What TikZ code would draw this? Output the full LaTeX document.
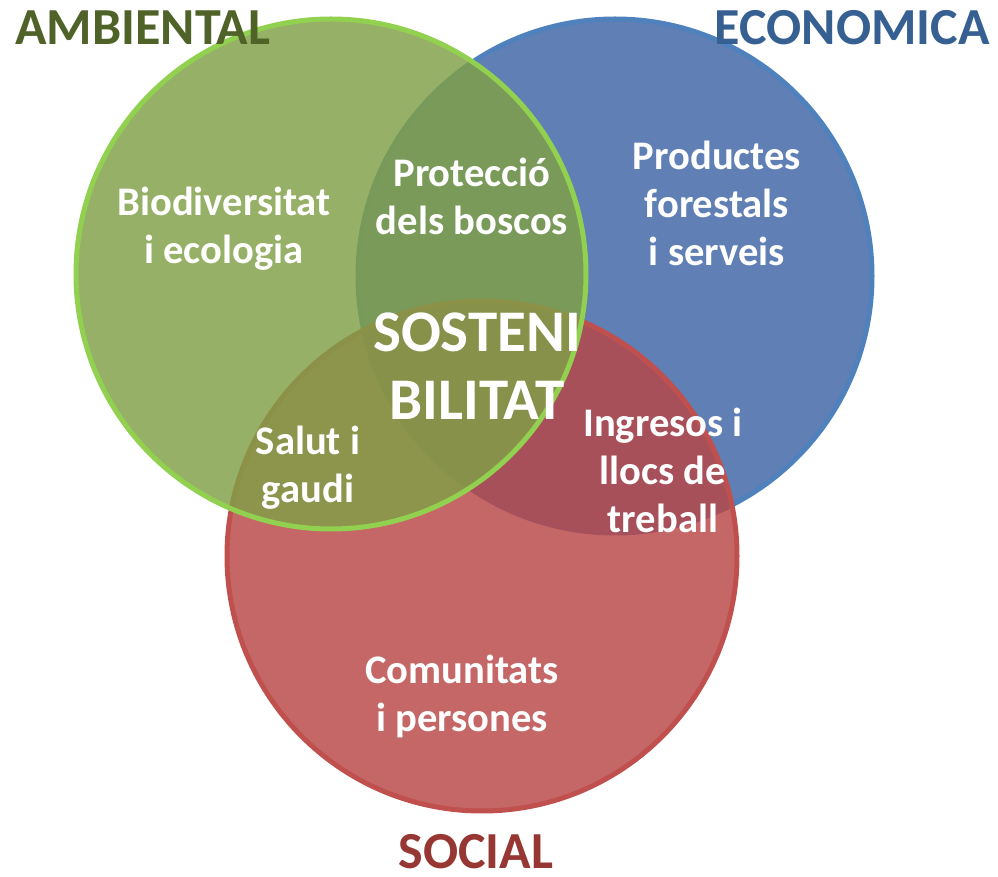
\documentclass[tikz,border=0pt]{standalone}
\usepackage{fontspec}
\setmainfont{Carlito}
\definecolor{gfill}{RGB}{128,160,70}
\definecolor{gline}{RGB}{146,208,80}
\definecolor{bfill}{RGB}{62,100,165}
\definecolor{bline}{RGB}{79,129,189}
\definecolor{rfill}{RGB}{185,70,70}
\definecolor{rline}{RGB}{192,80,77}
\definecolor{gtitle}{RGB}{79,98,40}
\definecolor{btitle}{RGB}{54,96,146}
\definecolor{rtitle}{RGB}{150,55,52}
\tikzset{
  circ/.style={line width=2.5pt, fill opacity=0.82},
  lbl/.style={align=center, text=white, font=\bfseries\fontsize{20.3}{24}\selectfont, inner sep=0pt},
  big/.style={align=center, text=white, font=\bfseries\fontsize{29.5}{34}\selectfont, inner sep=0pt},
  ttl/.style={font=\bfseries\fontsize{26}{30}\selectfont, inner sep=0pt}
}
\begin{document}
\begin{tikzpicture}[x=0.5pt,y=-0.5pt]
\useasboundingbox (0,0) rectangle (998,877);
\fill[white] (0,0) rectangle (998,877);
\path[circ, draw=bline, fill=bfill] (615,276) circle[radius=257];
\path[circ, draw=rline, fill=rfill] (482,556) circle[radius=255];
\path[circ, draw=gline, fill=gfill] (331,274) circle[radius=255];
\node[lbl] (bio) at (224,229) {Biodiversitat\\i ecologia};
\node[lbl] (prot) at (472,196) {Protecció\\dels boscos};
\node[lbl] (prod) at (717,203) {Productes\\forestals\\i serveis};
\node[big] (sost) at (477,366) {SOSTENI\\BILITAT};
\node[lbl] (salut) at (308,468) {Salut i\\gaudi};
\node[lbl] (ingr) at (663,470) {Ingresos i\\llocs de\\treball};
\node[lbl] (com) at (462,696) {Comunitats\\i persones};
\node[ttl, text=gtitle, anchor=base west] (amb) at (15,45) {AMBIENTAL};
\node[ttl, text=btitle, anchor=base east] (eco) at (990,45) {ECONOMICA};
\node[ttl, text=rtitle, anchor=base] (soc) at (476,869) {SOCIAL};
\end{tikzpicture}
\end{document}
